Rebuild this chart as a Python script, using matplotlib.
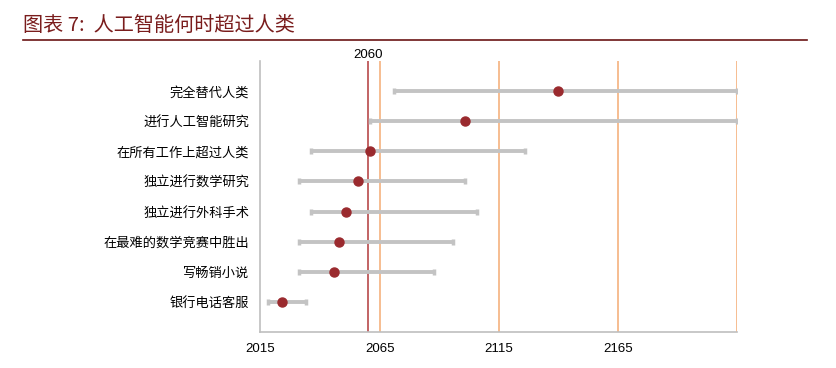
import matplotlib.pyplot as plt

plt.rcParams['font.family'] = ['Noto Sans CJK SC', 'DejaVu Sans']

# tasks listed bottom to top
tasks = ['银行电话客服', '写畅销小说', '在最难的数学竞赛中胜出', '独立进行外科手术',
         '独立进行数学研究', '在所有工作上超过人类', '进行人工智能研究', '完全替代人类']
low = [2018, 2031, 2031, 2036, 2031, 2036, 2061, 2071]
median = [2024, 2046, 2048, 2051, 2056, 2061, 2101, 2140]
high = [2034, 2088, 2096, 2106, 2101, 2126, 2215, 2215]

year_ticks = [2015, 2065, 2115, 2165, 2215]
year_labels = ['2015', '2065', '2115', '2165', '']
marker_year = 2060

fig = plt.figure(figsize=(8.36, 3.68), dpi=100)
ax = fig.add_axes([0.3116, 0.0978, 0.57, 0.7362])

ypos = list(range(len(tasks)))

for y in year_ticks[1:]:
    ax.axvline(y, color='#f5b27e', lw=1.2, zorder=1)
ax.axvline(marker_year, color='#b8494a', lw=1.2, zorder=2)

xerr = [[m - l for m, l in zip(median, low)], [h - m for h, m in zip(high, median)]]
ax.errorbar(median, ypos, xerr=xerr, fmt='none', ecolor='#c3c3c3', elinewidth=2.8,
            capsize=2.5, capthick=2.5, zorder=3)
ax.plot(median, ypos, 'o', color='#9a2a2e', ms=6.5, zorder=4)

ax.set_xlim(2015, 2215)
ax.set_ylim(-1, len(tasks))
ax.set_xticks(year_ticks)
ax.set_xticklabels(year_labels, family=['Liberation Sans'], fontsize=9.5)
ax.set_yticks(ypos)
ax.set_yticklabels(tasks, fontsize=9.5)
ax.tick_params(length=0, pad=8)

for s in ['top', 'right']:
    ax.spines[s].set_visible(False)
for s in ['left', 'bottom']:
    ax.spines[s].set_color('#bfbfbf')
    ax.spines[s].set_linewidth(1.2)

ax.text(marker_year, len(tasks) + 0.2, str(marker_year), ha='center', va='center',
        fontsize=9.5, family=['Liberation Sans'], clip_on=False)

fig.text(0.027, 0.93, '图表 7:  人工智能何时超过人类', color='#7a1d1d', fontsize=14.5,
         ha='left', va='center')
fig.add_artist(plt.Line2D([0.027, 0.965], [0.89, 0.89], color='#6b1414', lw=1.2))

fig.savefig('out.png', dpi=100)
